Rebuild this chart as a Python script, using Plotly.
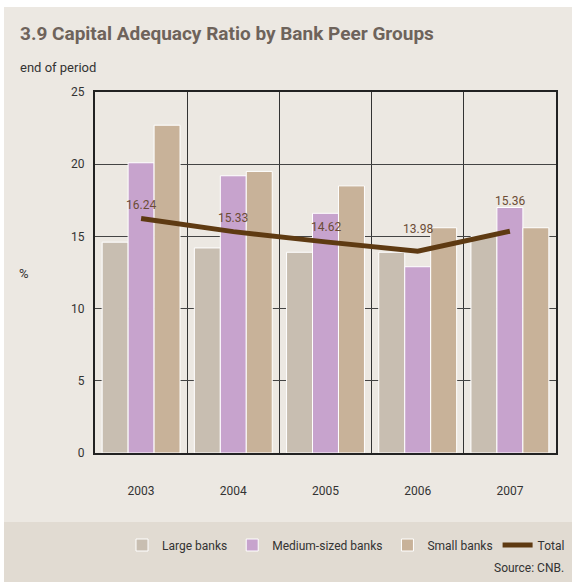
import plotly.graph_objects as go

# Capital adequacy ratio (%) by bank peer group, end of period
years = ["2003", "2004", "2005", "2006", "2007"]
large_banks = [14.6, 14.2, 13.9, 13.9, 15.0]
medium_banks = [20.1, 19.2, 16.6, 12.9, 17.0]
small_banks = [22.7, 19.5, 18.5, 15.6, 15.6]
total = [16.24, 15.33, 14.62, 13.98, 15.36]
y_ticks = [0, 5, 10, 15, 20, 25]

W, H = 572, 582
ML, MR, MT, MB = 95, 16, 92, 129
PW, PH = W - ML - MR, H - MT - MB

FONT = "Roboto, Liberation Sans, sans-serif"
BG = "#ECE8E2"
BAND = "#E1DBD2"

# vertical pixel offsets of the Total labels, lifted clear of the bars
label_lift = [13, 14, 15, 22, 30]


def px_x(px):
    return (px - ML) / PW


def px_y(py):
    return (H - MB - py) / PH


fig = go.Figure()
outline = dict(color="white", width=1)
fig.add_trace(go.Bar(x=years, y=large_banks, name="Large banks",
                     marker=dict(color="#C8BEB1", line=outline)))
fig.add_trace(go.Bar(x=years, y=medium_banks, name="Medium-sized banks",
                     marker=dict(color="#C7A3CD", line=outline)))
fig.add_trace(go.Bar(x=years, y=small_banks, name="Small banks",
                     marker=dict(color="#C8B299", line=outline)))
fig.add_trace(go.Scatter(
    x=years, y=total, name="Total", mode="lines",
    line=dict(color="#5E3A12", width=5),
))

shapes = [
    # panel background and lower legend band
    dict(type="rect", xref="paper", yref="paper", layer="below",
         x0=px_x(4), x1=px_x(W + 2), y0=px_y(522), y1=px_y(7),
         fillcolor=BG, line=dict(width=0)),
    dict(type="rect", xref="paper", yref="paper", layer="below",
         x0=px_x(4), x1=px_x(W + 2), y0=px_y(H + 2), y1=px_y(522),
         fillcolor=BAND, line=dict(width=0)),
]

# value labels for the Total line (category axis -> serial index)
annotations = [
    dict(x=i, y=v, text=f"{v:.2f}", xref="x", yref="y",
         showarrow=False, yanchor="middle", yshift=lift,
         font=dict(family=FONT, size=12, color="#6B4C35"))
    for i, (v, lift) in enumerate(zip(total, label_lift))
]

annotations += [
    dict(text="<b>3.9 Capital Adequacy Ratio by Bank Peer Groups</b>",
         xref="paper", yref="paper", x=px_x(18), y=px_y(33),
         xanchor="left", yanchor="middle", showarrow=False,
         font=dict(family=FONT, size=19, color="#6E635B")),
    dict(text="end of period", xref="paper", yref="paper",
         x=px_x(18), y=px_y(68), xanchor="left", yanchor="middle",
         showarrow=False, font=dict(family=FONT, size=13, color="#333333")),
    dict(text="%", xref="paper", yref="paper",
         x=px_x(24), y=px_y(273), xanchor="center", yanchor="middle",
         showarrow=False, font=dict(family=FONT, size=13, color="#333333")),
    dict(text="Source: CNB.", xref="paper", yref="paper",
         x=px_x(566), y=px_y(568), xanchor="right", yanchor="middle",
         showarrow=False, font=dict(family=FONT, size=12, color="#333333")),
]

fig.update_layout(
    width=W, height=H,
    margin=dict(l=ML, r=MR, t=MT, b=MB, autoexpand=False),
    paper_bgcolor="white",
    plot_bgcolor="rgba(0,0,0,0)",
    barmode="group", bargap=0.155, bargroupgap=0,
    font=dict(family=FONT, size=12, color="#333333"),
    shapes=shapes,
    annotations=annotations,
    showlegend=True,
    legend=dict(orientation="h", xref="paper", yref="paper",
                x=px_x(570), y=px_y(545), xanchor="right", yanchor="middle",
                bgcolor="rgba(0,0,0,0)",
                font=dict(family=FONT, size=12, color="#333333"),
                traceorder="normal", itemwidth=30),
)
fig.update_xaxes(
    type="category", tickson="boundaries", showgrid=True,
    gridcolor="#333333", gridwidth=1,
    showline=True, linecolor="#222222", linewidth=2, mirror=True,
    ticks="", ticklabelstandoff=26, tickangle=0,
)
fig.update_yaxes(
    range=[0, 25], tickvals=y_ticks, showgrid=True,
    gridcolor="#444444", gridwidth=1,
    showline=True, linecolor="#222222", linewidth=2, mirror=True,
    ticks="", zeroline=False, ticklabelstandoff=6,
)

fig.write_html("out.html")
